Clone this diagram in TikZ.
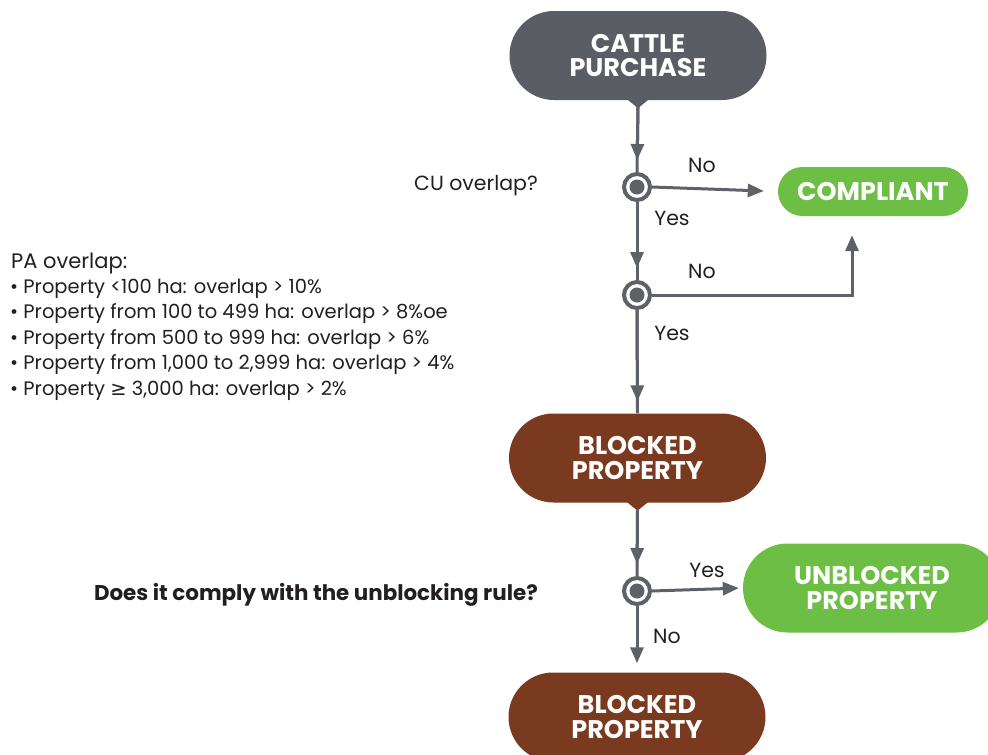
\documentclass[tikz,border=0pt]{standalone}
\usepackage{fontspec}
\setmainfont{Poppins}
\newfontfamily\symfnt{DejaVu Sans}
\usetikzlibrary{arrows.meta,calc,shapes.misc}
\definecolor{nodegray}{HTML}{5A5D63}
\definecolor{linegray}{HTML}{5E6167}
\definecolor{brown}{HTML}{7A3A20}
\definecolor{green}{HTML}{6DBE45}
\definecolor{txt}{HTML}{231F20}
\tikzset{
  term/.style={rounded rectangle, minimum width=257pt, minimum height=89pt, inner sep=0pt,
    text=white, font=\fontsize{25.5}{24.5}\selectfont\bfseries, align=center},
  dec/.style={circle, minimum size=26pt, inner sep=0pt, draw=linegray, line width=4pt, fill=white,
    path picture={\fill[linegray] (path picture bounding box.center) circle (7.5pt);}},
  tip/.style={-{Triangle[width=13pt,length=16pt]}},
  flow/.style={draw=linegray, line width=3pt},
  flowmid/.style={flow, postaction={draw=linegray, line width=3pt, tip, shorten >=12pt}},
  lbl/.style={font=\fontsize{20.5}{24}\selectfont, text=txt, inner sep=0pt},
  item/.style={font=\fontsize{19.5}{24}\selectfont, text=txt, inner sep=0pt, anchor=base west},
}
\begin{document}
\begin{tikzpicture}[x=1pt,y=-1pt]
\useasboundingbox (0,0) rectangle (988,755);
\clip (0,0) rectangle (988,755);
% terminals
\node[term, fill=nodegray] (cattle) at (638,55.5) {CATTLE\\PURCHASE};
\node[term, fill=green, minimum width=190pt, minimum height=49pt] (compliant) at (873,191.5) {COMPLIANT};
\node[term, fill=brown] (blocked1) at (637.5,458) {BLOCKED\\PROPERTY};
\node[term, fill=green, minimum width=258pt] (unblocked) at (872,588) {UNBLOCKED\\PROPERTY};
\node[term, fill=brown] (blocked2) at (637,717) {BLOCKED\\PROPERTY};
% pointers
\fill[nodegray] ($(cattle.south)+(-11,-1)$) -- ($(cattle.south)+(11,-1)$) -- ($(cattle.south)+(0,8)$) -- cycle;
\fill[brown] ($(blocked1.south)+(-11,-1)$) -- ($(blocked1.south)+(11,-1)$) -- ($(blocked1.south)+(0,8)$) -- cycle;
\coordinate (p1) at ($(cattle.south)+(0,7)$);
\coordinate (p2) at ($(blocked1.south)+(0,7)$);
% decisions
\node[dec] (c1) at (637,187) {};
\node[dec] (c2) at (637,295) {};
\node[dec] (c3) at (637,591) {};
% connectors
\draw[flowmid] (p1) -- (c1.north);
\draw[flowmid] (c1.south) -- (c2.north);
\draw[flowmid] (c2.south) -- (blocked1.north);
\draw[flowmid] (p2) -- (c3.north);
\draw[flow, tip, shorten >=14pt] (c1.east) -- (compliant.west);
\coordinate (cup) at ($(compliant.south)+(-21,19)$);
\draw[flow, tip] (c2.east) -| (cup);
\draw[flow, tip, shorten >=4pt] (c3.east) -- (unblocked.west);
\draw[flow, tip, shorten >=9pt] (c3.south) -- (blocked2.north);
% labels
\node[lbl] (l1) at (702,165) {No};
\node[lbl] (l2) at (672,218) {Yes};
\node[lbl] (l3) at (702,271) {No};
\node[lbl] (l4) at (672,333) {Yes};
\node[lbl] (l5) at (707,570) {Yes};
\node[lbl] (l6) at (667,636) {No};
\node[lbl, anchor=east] (q1) at (538,186) {CU overlap?};
\node[lbl, anchor=east, font=\fontsize{21.4}{24}\selectfont\bfseries] (q3) at (538,595) {Does it comply with the unblocking rule?};
\node[item, font=\fontsize{21}{24}\selectfont] (pa) at (11,268) {PA overlap:};
\node[item] (i1) at (10,293) {• Property <100 ha: overlap > 10\%};
\node[item] (i2) at (10,318) {• Property from 100 to 499 ha: overlap > 8\%oe};
\node[item] (i3) at (10,344) {• Property from 500 to 999 ha: overlap > 6\%};
\node[item] (i4) at (10,369) {• Property from 1,000 to 2,999 ha: overlap > 4\%};
\node[item] (i5) at (10,395) {• Property {\symfnt ≥} 3,000 ha: overlap > 2\%};
\end{tikzpicture}
\end{document}
